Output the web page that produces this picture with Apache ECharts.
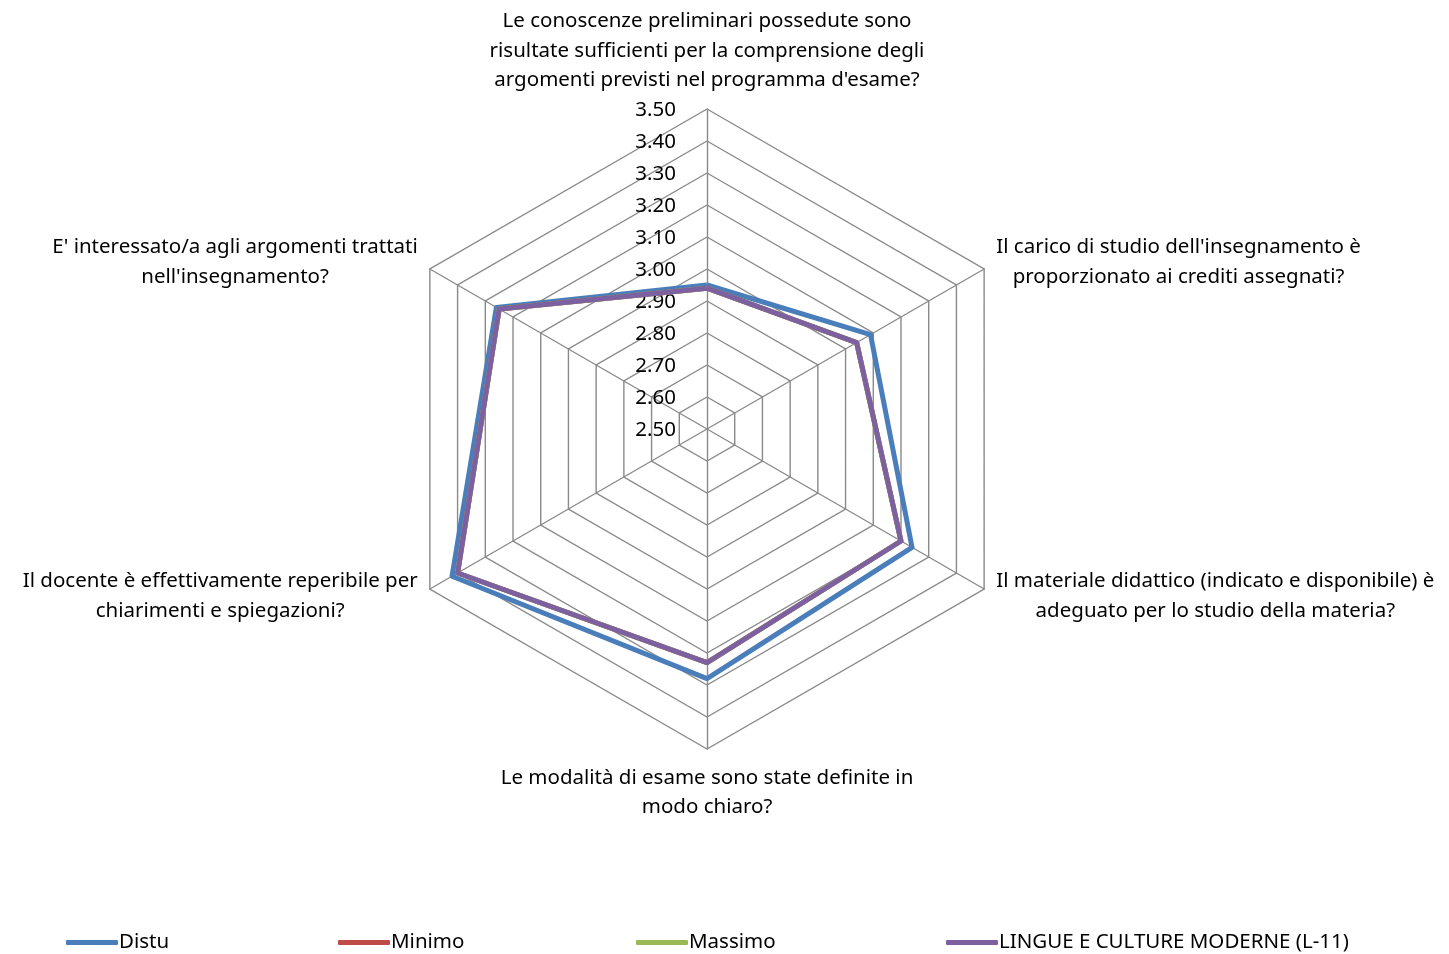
<!DOCTYPE html>
<html><head><meta charset="utf-8">
<script src="https://cdn.jsdelivr.net/npm/echarts@6/dist/echarts.min.js"></script>
<style>html,body{margin:0;padding:0;background:#fff}#c{width:1449px;height:954px}</style>
</head><body><div id="c"></div>
<script>
// Indicators in clockwise order starting from the top
var categories = [
  "Le conoscenze preliminari possedute sono\nrisultate sufficienti per la comprensione degli\nargomenti previsti nel programma d'esame?",
  "Il carico di studio dell'insegnamento è\nproporzionato ai crediti assegnati?",
  "Il materiale didattico (indicato e disponibile) è\nadeguato per lo studio della materia?",
  "Le modalità di esame sono state definite in\nmodo chiaro?",
  "Il docente è effettivamente reperibile per\nchiarimenti e spiegazioni?",
  "E' interessato/a agli argomenti trattati\nnell'insegnamento?"
];
var seriesNames = ["Distu", "Minimo", "Massimo", "LINGUE E CULTURE MODERNE (L-11)"];
var distu   = [2.95, 3.09, 3.24, 3.28, 3.42, 3.26];
var minimo  = [2.94, 3.04, 3.20, 3.23, 3.40, 3.25];
var massimo = [2.94, 3.04, 3.20, 3.23, 3.40, 3.25];
var lingue  = [2.94, 3.04, 3.20, 3.23, 3.40, 3.25];
var axisMin = 2.5, axisMax = 3.5, axisStep = 0.1;

var colors = ["#4A7EBB", "#BE4B48", "#98B954", "#7D60A0"];
var FONT = "Noto Sans";
var FS = 20.5;
// ECharts places radar indicators counter-clockwise; reorder to keep clockwise layout
var order = [0, 5, 4, 3, 2, 1];
function reorder(a){ return order.map(function(i){ return a[i]; }); }

var indicators = reorder(categories).map(function(n){ return {name: n, min: axisMin, max: axisMax}; });
var allData = [distu, minimo, massimo, lingue];

var chart = echarts.init(document.getElementById('c'), null, {renderer: 'canvas'});
var legendLefts = [61, 333, 631, 941];
var option = {
  animation: false,
  color: colors,
  textStyle: {fontFamily: FONT},
  legend: seriesNames.map(function(n, i){
    return {
      data: [n], left: legendLefts[i], top: 927,
      itemWidth: 52, itemHeight: 5, icon: 'roundRect', itemGap: 0,
      textStyle: {fontFamily: FONT, fontSize: FS, color: '#000', padding: [0,0,0,-4]}
    };
  }),
  radar: {
    center: [707, 429], radius: 320, startAngle: 90,
    shape: 'polygon', splitNumber: 10,
    min: axisMin, max: axisMax,
    indicator: indicators,
    axisNameGap: 14,
    axisName: {
      color: '#000', fontFamily: FONT, fontSize: FS, lineHeight: 29.5,
      formatter: function(v){
        return v.split('\n').map(function(l){ return '{c|' + l + '}'; }).join('\n');
      },
      rich: {c: {align: 'center', color: '#000', fontFamily: FONT, fontSize: FS, lineHeight: 29.5}}
    },
    axisLine: {lineStyle: {color: '#8A8A8A', width: 1.4}},
    splitLine: {lineStyle: {color: '#8A8A8A', width: 1.4}},
    splitArea: {show: false},
    axisTick: {show: false},
    axisLabel: {show: false}
  },
  grid: {left: 707, top: 110, height: 320, width: 1},
  xAxis: {type: 'value', show: false},
  yAxis: {
    type: 'value', min: axisMin, max: axisMax, interval: axisStep,
    axisLine: {show: false}, axisTick: {show: false}, splitLine: {show: false},
    axisLabel: {margin: 31, color: '#000', fontFamily: FONT, fontSize: FS,
      formatter: function(v){ return v.toFixed(2); }}
  },
  series: [{
    type: 'radar',
    symbol: 'none',
    data: allData.map(function(d, i){
      return {name: seriesNames[i], value: reorder(d),
        lineStyle: {color: colors[i], width: 5}, itemStyle: {color: colors[i]}};
    })
  }]
};
chart.setOption(option);
</script>
</body></html>
